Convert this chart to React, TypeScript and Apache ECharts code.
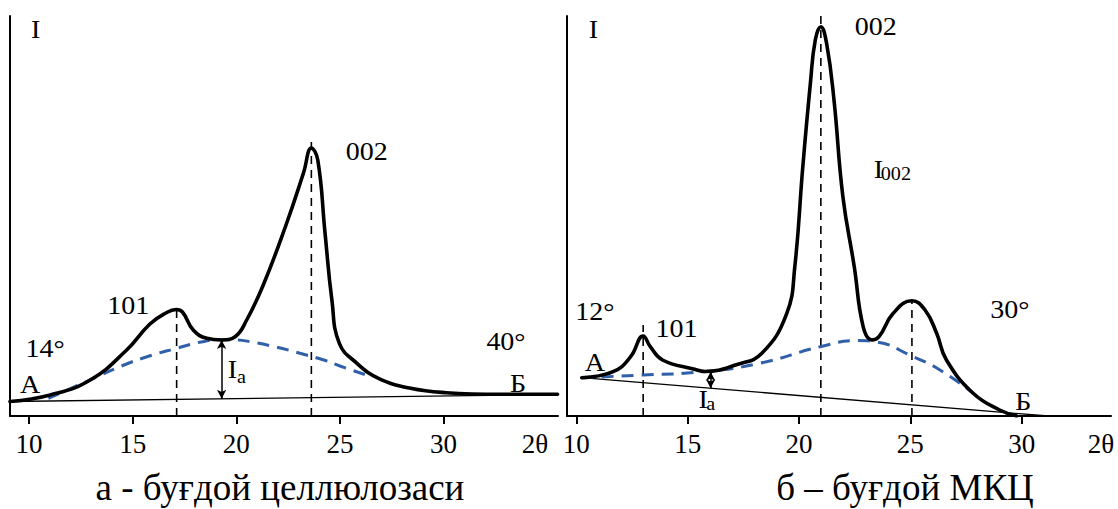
import React, { useEffect, useRef } from "react";
import * as echarts from "echarts";

// ---------- data: panel а (wheat cellulose) ----------
const leftCurve: [number, number][] = [
  [9.08, 14.5], [11.02, 21], [12.95, 36], [14.71, 66], [15.83, 92], [16.6, 103],
  [17.1, 106.5], [17.4, 104], [17.92, 86], [18.57, 77.7], [19.29, 76], [19.94, 79.3],
  [20.5, 96], [21.3, 131], [22.38, 190], [23.24, 243], [23.62, 268], [23.93, 256],
  [24.28, 183], [24.61, 116], [24.97, 72.7], [25.82, 52.7], [26.86, 37.7],
  [28.41, 27.7], [30.13, 23.3], [32.72, 21.7], [35.5, 21.7],
];
const leftAmorphous: [number, number][] = [
  [10.93, 17.7], [12.94, 36], [14.46, 50], [15.8, 60], [17.12, 67.7], [18.3, 74],
  [19.26, 76.3], [20.0, 76], [20.66, 74.3], [21.9, 69], [23.07, 62.7], [24.3, 55.5],
  [25.0, 50], [26.52, 39.3],
];
const leftBaseline: [number, number][] = [[9.08, 14.5], [35.5, 21.5]];
const leftPeakLines = [
  { x: 17.12, top: 112 },
  { x: 23.62, top: 274 },
];
const leftIa = { x: 19.29, from: 76, to: 17.2 };

// ---------- data: panel б (wheat MCC) ----------
const rightCurve: [number, number][] = [
  [10.24, 38.3], [11.65, 44.3], [12.44, 59.3], [13.0, 80], [13.32, 69.3], [13.87, 56],
  [15.31, 46.7], [15.77, 44.5], [17.22, 51.5], [18.33, 62.7], [19.45, 102.7],
  [19.81, 149.3], [20.17, 249.3], [20.51, 332.7], [20.73, 376], [20.98, 389.3],
  [21.25, 371], [21.57, 316], [21.97, 219.3], [22.48, 149.3], [22.88, 89.3],
  [23.27, 76], [23.59, 79.3], [24.23, 102.7], [25.07, 115.3], [25.66, 106],
  [26.18, 82.7], [26.62, 56], [27.82, 22.7], [29.01, 6], [29.77, 0],
];
const rightAmorphous: [number, number][] = [
  [10.24, 38.3], [13.0, 41], [15.69, 44.3], [18.24, 52.7], [20.96, 69.3],
  [22.64, 75.5], [23.41, 74.3], [25.13, 59.3], [26.33, 46], [27.82, 22.7],
];
const rightBaseline: [number, number][] = [[10.24, 38.3], [31.18, 0]];
const rightPeakLines = [
  { x: 13.0, top: 91 },
  { x: 20.98, top: 400 },
  { x: 25.07, top: 115 },
];
const rightIa = { x: 16.03, from: 44.3, to: 27.7 };

// ---------- axes ----------
const tickValues = [10, 15, 20, 25, 30];
const axisNameText = "2θ";
const leftAxisNamePos = 34.41;
const rightAxisNamePos = 33.56;
const leftRange = { min: 9.08, max: 35.52 };
const rightRange = { min: 9.58, max: 34.01 };

// ---------- annotations (data coordinates) ----------
type Ann = { text: string; x: number; y: number };
const leftLabels: Ann[] = [
  { text: "I", x: 10.32, y: 386.7 },
  { text: "002", x: 26.29, y: 264.3 },
  { text: "101", x: 14.79, y: 110 },
  { text: "14°", x: 10.77, y: 67.7 },
  { text: "А", x: 10.05, y: 31 },
  { text: "I", x: 19.81, y: 46 },
  { text: "40°", x: 33.01, y: 74.3 },
  { text: "Б", x: 33.59, y: 32.7 },
];
const leftSubs: Ann[] = [{ text: "a", x: 20.25, y: 39.3 }];
const rightLabels: Ann[] = [
  { text: "I", x: 10.77, y: 386 },
  { text: "002", x: 23.45, y: 389.3 },
  { text: "I", x: 23.56, y: 246 },
  { text: "12°", x: 10.83, y: 104 },
  { text: "101", x: 14.5, y: 87.7 },
  { text: "А", x: 10.83, y: 53.3 },
  { text: "I", x: 15.69, y: 16 },
  { text: "30°", x: 29.47, y: 106 },
  { text: "Б", x: 30.07, y: 14.3 },
];
const rightSubs: Ann[] = [
  { text: "002", x: 24.35, y: 242 },
  { text: "a", x: 16.03, y: 12 },
];
const captions = [
  { text: "а - буғдой целлюлозаси", cx: 280, cy: 487 },
  { text: "б – буғдой МКЦ", cx: 905, cy: 487 },
];

const FONT = "Liberation Serif";
const BLUE = "#3160AA";

function xAxisFor(gridIndex: number, range: { min: number; max: number }, namePos: number) {
  return {
    type: "value",
    gridIndex,
    min: range.min,
    max: range.max,
    axisLine: { show: true, onZero: false, lineStyle: { color: "#000", width: 2 } },
    axisTick: {
      show: true,
      inside: false,
      length: 8,
      customValues: tickValues,
      lineStyle: { color: "#000", width: 2 },
    },
    axisLabel: {
      show: true,
      customValues: [...tickValues, namePos],
      formatter: (v: number) => (v > 31 ? axisNameText : String(v)),
      color: "#000",
      fontFamily: FONT,
      fontSize: 27,
      margin: 14,
    },
    splitLine: { show: false },
  };
}

function yAxisFor(gridIndex: number) {
  return {
    type: "value",
    gridIndex,
    min: 0,
    max: 400,
    axisLine: { show: true, onZero: false, lineStyle: { color: "#000", width: 2 } },
    axisTick: { show: false },
    axisLabel: { show: false },
    splitLine: { show: false },
  };
}

function panelSeries(
  idx: number,
  curve: [number, number][],
  amorph: [number, number][],
  base: [number, number][],
  peaks: { x: number; top: number }[],
  ia: { x: number; from: number; to: number }
) {
  const s: any[] = [];
  peaks.forEach((p) => {
    s.push({
      type: "line",
      xAxisIndex: idx,
      yAxisIndex: idx,
      data: [[p.x, 0], [p.x, p.top]],
      showSymbol: false,
      symbol: "none",
      silent: true,
      lineStyle: { color: "#000", width: 1.6, type: [8, 6] },
      z: 2,
    });
  });
  s.push({
    type: "line",
    xAxisIndex: idx,
    yAxisIndex: idx,
    data: base,
    showSymbol: false,
    symbol: "none",
    silent: true,
    lineStyle: { color: "#000", width: 1.3 },
    z: 2,
    markLine: {
      silent: true,
      symbol: ["arrow", "arrow"],
      symbolSize: [7, 9],
      label: { show: false },
      lineStyle: { color: "#000", width: 1.5, type: "solid" },
      data: [[{ coord: [ia.x, ia.from] }, { coord: [ia.x, ia.to] }]],
    },
  });
  s.push({
    type: "line",
    xAxisIndex: idx,
    yAxisIndex: idx,
    data: amorph,
    smooth: 0.5,
    showSymbol: false,
    symbol: "none",
    silent: true,
    lineStyle: { color: BLUE, width: 3, type: [12, 8] },
    z: 3,
  });
  s.push({
    type: "line",
    xAxisIndex: idx,
    yAxisIndex: idx,
    data: curve,
    smooth: 0.45,
    showSymbol: false,
    symbol: "none",
    silent: true,
    lineStyle: { color: "#000", width: 3.6, join: "round", cap: "round" },
    z: 4,
  });
  return s;
}

export default function App() {
  const ref = useRef<HTMLDivElement>(null);
  useEffect(() => {
    if (!ref.current) return;
    const chart = echarts.init(ref.current, undefined, { renderer: "svg" });
    chart.setOption({
      animation: false,
      backgroundColor: "#fff",
      textStyle: { fontFamily: FONT },
      grid: [
        { left: 10, top: 16, width: 548, height: 400, containLabel: false, outerBoundsMode: "none" },
        { left: 567, top: 16, width: 544, height: 400, containLabel: false, outerBoundsMode: "none" },
      ],
      xAxis: [xAxisFor(0, leftRange, leftAxisNamePos), xAxisFor(1, rightRange, rightAxisNamePos)],
      yAxis: [yAxisFor(0), yAxisFor(1)],
      series: [
        ...panelSeries(0, leftCurve, leftAmorphous, leftBaseline, leftPeakLines, leftIa),
        ...panelSeries(1, rightCurve, rightAmorphous, rightBaseline, rightPeakLines, rightIa),
      ],
    });

    const toText = (a: Ann, grid: number, size: number) => {
      const p = chart.convertToPixel({ gridIndex: grid } as any, [a.x, a.y]) as number[];
      return {
        type: "text",
        x: p[0],
        y: p[1],
        scaleX: 1.12,
        silent: true,
        z: 10,
        style: {
          text: a.text,
          fill: "#000",
          fontFamily: FONT,
          fontSize: size,
          align: "center",
          verticalAlign: "middle",
        },
      };
    };
    const graphics: any[] = [
      ...leftLabels.map((a) => toText(a, 0, 25)),
      ...leftSubs.map((a) => toText(a, 0, 18)),
      ...rightLabels.map((a) => toText(a, 1, 25)),
      ...rightSubs.map((a) => toText(a, 1, 18)),
      ...captions.map((c) => ({
        type: "text",
        x: c.cx,
        y: c.cy,
        silent: true,
        style: {
          text: c.text,
          fill: "#000",
          fontFamily: FONT,
          fontSize: 37,
          lineHeight: 36,
          align: "center",
          verticalAlign: "middle",
        },
      })),
    ];
    chart.setOption({ graphic: graphics });
    return () => chart.dispose();
  }, []);
  return (
    <div
      ref={ref}
      style={{ position: "absolute", left: 0, top: 0, width: 1118, height: 509, background: "#fff" }}
    />
  );
}
